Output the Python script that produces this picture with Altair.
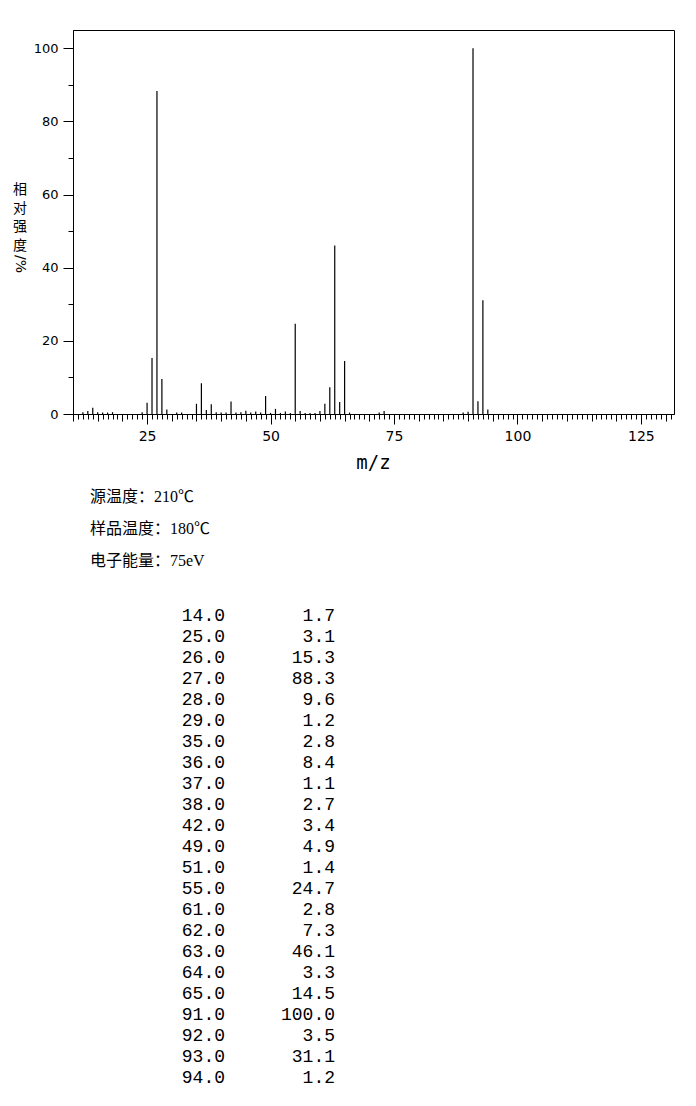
import altair as alt
import pandas as pd

# ---- data ----
peak_mz = [12, 13, 14, 15, 16, 17, 18, 24, 25, 26, 27, 28, 29, 31, 32,
           35, 36, 37, 38, 39, 40, 41, 42, 43, 44, 45, 46, 47, 48, 49, 50,
           51, 52, 53, 54, 55, 56, 57, 58, 59, 60, 61, 62, 63, 64, 65, 66,
           72, 73, 89, 90, 91, 92, 93, 94]
peak_int = [0.5, 0.8, 1.7, 0.5, 0.4, 0.4, 0.5, 0.5, 3.1, 15.3, 88.3, 9.6, 1.2, 0.4, 0.4,
            2.8, 8.4, 1.1, 2.7, 0.5, 0.4, 0.4, 3.4, 0.4, 0.5, 0.9, 0.4, 0.7, 0.4, 4.9, 0.3,
            1.4, 0.3, 0.7, 0.3, 24.7, 0.8, 0.3, 0.3, 0.3, 0.8, 2.8, 7.3, 46.1, 3.3, 14.5, 0.4,
            0.4, 0.8, 0.4, 0.6, 100.0, 3.5, 31.1, 1.2]

table_mz = [14, 25, 26, 27, 28, 29, 35, 36, 37, 38, 42, 49, 51, 55, 61, 62, 63,
            64, 65, 91, 92, 93, 94]
table_int = [1.7, 3.1, 15.3, 88.3, 9.6, 1.2, 2.8, 8.4, 1.1, 2.7, 3.4, 4.9, 1.4,
             24.7, 2.8, 7.3, 46.1, 3.3, 14.5, 100.0, 3.5, 31.1, 1.2]

info_lines = ["源温度：210℃", "样品温度：180℃", "电子能量：75eV"]
y_title_chars = ["相", "对", "强", "度"]
y_title_unit = "/%"
x_title = "m/z"

x_ticks = list(range(10, 132))
y_ticks = list(range(0, 101, 10))

peaks = pd.DataFrame({"mz": peak_mz, "intensity": peak_int})
table = pd.DataFrame({"mz": table_mz, "intensity": table_int,
                      "row": list(range(len(table_mz)))})
info = pd.DataFrame({"line": info_lines, "row": list(range(len(info_lines)))})
ychars = pd.DataFrame({"ch": y_title_chars, "row": list(range(len(y_title_chars)))})
one = pd.DataFrame({"k": [0]})

xscale = alt.Scale(domain=[10, 131.7], nice=False, zero=False)
yscale = alt.Scale(domain=[0, 105], nice=False, zero=True)

spectrum = alt.Chart(peaks).mark_rule(color="black", strokeWidth=1.2).encode(
    x=alt.X("mz:Q", scale=xscale, title=None,
            axis=alt.Axis(values=x_ticks,
                          labelExpr="datum.value % 25 === 0 ? datum.label : ''",
                          tickSize={"condition": [
                              {"test": "datum.value % 25 === 0", "value": 10},
                              {"test": "datum.value % 5 === 0", "value": 7}],
                              "value": 5},
                          labelOverlap=False, labelPadding=5, grid=False,
                          domainColor="black", tickColor="black", labelColor="black",
                          labelFont="DejaVu Sans", labelFontSize=14)),
    y=alt.Y("intensity:Q", scale=yscale, title=None,
            axis=alt.Axis(values=y_ticks,
                          labelExpr="datum.value % 20 === 0 ? datum.label : ''",
                          tickSize={"condition": {"test": "datum.value % 20 === 0", "value": 10},
                                    "value": 5},
                          labelOverlap=False, labelPadding=5, grid=False,
                          domainColor="black", tickColor="black", labelColor="black",
                          labelFont="DejaVu Sans", labelFontSize=13)),
    y2=alt.datum(0),
)

ytitle = alt.Chart(ychars).mark_text(
    font="Noto Sans CJK SC", fontSize=14, align="center", baseline="middle", color="black"
).encode(
    x=alt.value(-53),
    y=alt.Y("row:Q", scale=alt.Scale(domain=[0, 3], range=[160, 215.5]), axis=None),
    text="ch:N",
)

yunit = alt.Chart(one).mark_text(
    font="DejaVu Sans", fontSize=14, align="center", baseline="middle",
    angle=90, color="black"
).encode(x=alt.value(-53), y=alt.value(234), text=alt.value(y_title_unit))

xtitle = alt.Chart(one).mark_text(
    font="DejaVu Sans Mono", fontSize=19, align="center", baseline="middle", color="black"
).encode(x=alt.value(300.5), y=alt.value(433), text=alt.value(x_title))

info_layer = alt.Chart(info).mark_text(
    font="Liberation Serif, Noto Sans CJK SC", fontSize=16, align="left",
    baseline="middle", color="black"
).encode(
    x=alt.value(17),
    y=alt.Y("row:Q", scale=alt.Scale(domain=[0, 2], range=[467, 531]), axis=None),
    text="line:N",
)

table_left = alt.Chart(table).mark_text(
    font="Liberation Mono", fontSize=18, align="right", baseline="middle", color="black"
).encode(
    x=alt.value(152),
    y=alt.Y("row:Q", scale=alt.Scale(domain=[0, 22], range=[585.7, 1047.7]), axis=None),
    text=alt.Text("mz:Q", format=".1f"),
)

table_right = alt.Chart(table).mark_text(
    font="Liberation Mono", fontSize=18, align="right", baseline="middle", color="black"
).encode(
    x=alt.value(262),
    y=alt.Y("row:Q", scale=alt.Scale(domain=[0, 22], range=[585.7, 1047.7]), axis=None),
    text=alt.Text("intensity:Q", format=".1f"),
)

chart = alt.layer(
    spectrum, ytitle, yunit, xtitle, info_layer, table_left, table_right
).resolve_scale(y="independent").properties(
    width=601, height=384,
    autosize=alt.AutoSizeParams(type="none"),
    padding={"left": 65, "top": 22, "right": 14, "bottom": 690},
    background="white",
).configure_view(stroke="black", strokeWidth=1)

chart.save("out.html", embed_options={"renderer": "svg", "actions": False})
